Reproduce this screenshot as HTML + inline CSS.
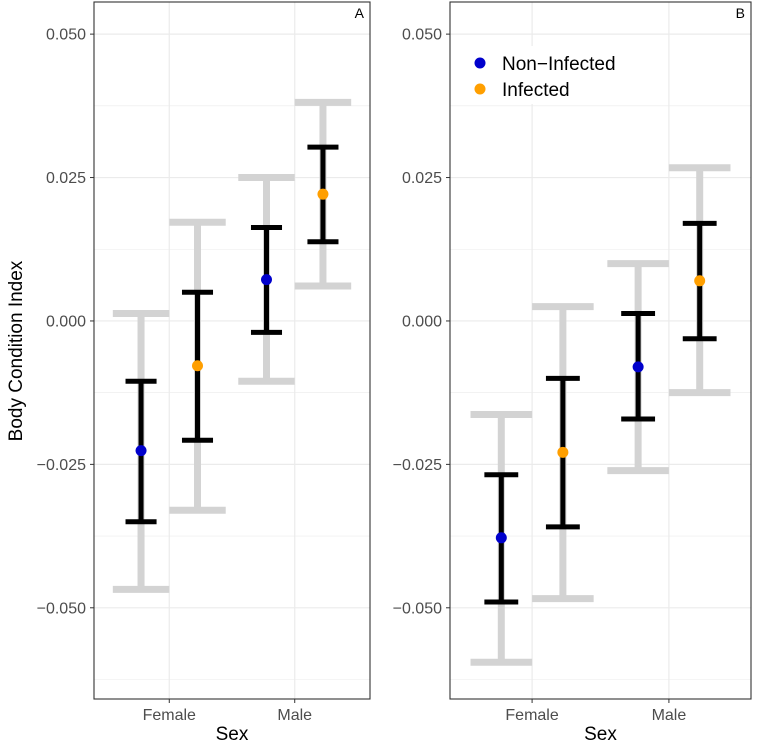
<!DOCTYPE html>
<html><head><meta charset="utf-8"><style>
body{margin:0;background:#fff}
text{font-family:"Liberation Sans",Arial,sans-serif}
</style></head><body>
<svg id="c" width="758" height="745" xmlns="http://www.w3.org/2000/svg"></svg>
<script>
const categories=["Female","Male"];
const groups=["Non-Infected","Infected"];
const yTicks=[0.05,0.025,0,-0.025,-0.05];
const yTickLabels=["0.050","0.025","0.000","\u22120.025","\u22120.050"];
const aMean=[[-0.0226,-0.0078],[0.0072,0.0221]];
const aInnerLo=[[-0.0350,-0.0208],[-0.0020,0.0138]];
const aInnerHi=[[-0.0105,0.0050],[0.0163,0.0303]];
const aOuterLo=[[-0.0468,-0.0330],[-0.0105,0.0061]];
const aOuterHi=[[0.0013,0.0172],[0.0250,0.0381]];
const bMean=[[-0.0378,-0.0229],[-0.0080,0.0070]];
const bInnerLo=[[-0.0490,-0.0359],[-0.0171,-0.0031]];
const bInnerHi=[[-0.0268,-0.0100],[0.0013,0.0170]];
const bOuterLo=[[-0.0595,-0.0484],[-0.0261,-0.0125]];
const bOuterHi=[[-0.0163,0.0025],[0.0100,0.0267]];
const colors=["#0000cc","#ff9f00"];
const NS="http://www.w3.org/2000/svg";
const svgEl=document.getElementById('c');
function mk(t,a,p){const e=document.createElementNS(NS,t);for(const k in a)e.setAttribute(k,a[k]);(p||svgEl).appendChild(e);return e;}
const yMin=-0.0659,yMax=0.0556,plotTop=2,plotBot=699;
function Y(v){return plotTop+(yMax-v)/(yMax-yMin)*(plotBot-plotTop);}
function panel(left,right,label,M,IL,IH,OL,OH){
  const g=mk('g',{});
  
  
  const w=right-left;
  function X(i,off){return left+(i+1-0.4+off)/2.2*w;}
  for(let v=-0.0625;v<=0.05;v+=0.025){mk('line',{x1:left,x2:right,y1:Y(v),y2:Y(v),stroke:'#ebebeb','stroke-width':0.6},g);}
  yTicks.forEach((v,i)=>{
    const gl=mk('line',{x1:left,x2:right,y1:Y(v),y2:Y(v),stroke:'#ebebeb','stroke-width':1.2},g);
    
    mk('line',{x1:left-4,x2:left,y1:Y(v),y2:Y(v),stroke:'#333','stroke-width':1},g);
    const t=mk('text',{x:left-8,y:Y(v)+5.5,'text-anchor':'end','font-size':16,fill:'#4d4d4d'},g);
    t.textContent=yTickLabels[i];
    
    
  });
  categories.forEach((c,i)=>{
    mk('line',{x1:X(i,0),x2:X(i,0),y1:plotTop,y2:plotBot,stroke:'#ebebeb','stroke-width':1.2},g);
    mk('line',{x1:X(i,0),x2:X(i,0),y1:plotBot,y2:plotBot+4,stroke:'#333','stroke-width':1},g);
    const t=mk('text',{x:X(i,0),y:plotBot+21,'text-anchor':'middle','font-size':16,fill:'#4d4d4d'},g);
    t.textContent=c;
    
    
  });
  categories.forEach((c,i)=>{groups.forEach((gr,j)=>{
    const x=X(i,j?0.225:-0.225);
    const hw=0.225/2.2*w, bw=hw*0.55;
    const o=mk('path',{d:`M${x-hw},${Y(OH[i][j])}H${x+hw}M${x-hw},${Y(OL[i][j])}H${x+hw}M${x},${Y(OH[i][j])}V${Y(OL[i][j])}`,stroke:'#d3d3d3','stroke-width':7,fill:'none'},g);
    
    
    const b=mk('path',{d:`M${x-bw},${Y(IH[i][j])}H${x+bw}M${x-bw},${Y(IL[i][j])}H${x+bw}M${x},${Y(IH[i][j])}V${Y(IL[i][j])}`,stroke:'#000','stroke-width':5,fill:'none'},g);
    
    
    const p=mk('circle',{cx:x,cy:Y(M[i][j]),r:5.5,fill:colors[j]},g);
    
    
  });});
  mk('rect',{x:left,y:plotTop,width:w,height:plotBot-plotTop,fill:'none',stroke:'#333','stroke-width':1.1},g);
  const l=mk('text',{x:right-6,y:plotTop+16,'text-anchor':'end','font-size':14},g);
  l.textContent=label;
  
  
  const xt=mk('text',{x:(left+right)/2,y:740,'text-anchor':'middle','font-size':19},g);
  xt.textContent='Sex';
  
  
}
panel(94,370,'A',aMean,aInnerLo,aInnerHi,aOuterLo,aOuterHi);
panel(450,751,'B',bMean,bInnerLo,bInnerHi,bOuterLo,bOuterHi);
const yt=mk('text',{x:0,y:0,transform:'translate(22,351) rotate(-90)','text-anchor':'middle','font-size':19});
yt.textContent='Body Condition Index';


const lg=mk('g',{});


mk('rect',{x:468,y:46,width:170,height:58,fill:'#fff'},lg);
groups.forEach((gr,j)=>{
  const c=mk('circle',{cx:480,cy:63+j*26,r:5.5,fill:colors[j]},lg);
  
  
  const t=mk('text',{x:502,y:70+j*26,'font-size':19},lg);
  t.textContent=j?'Infected':'Non\u2212Infected';
  
  
});
</script>
</body></html>
